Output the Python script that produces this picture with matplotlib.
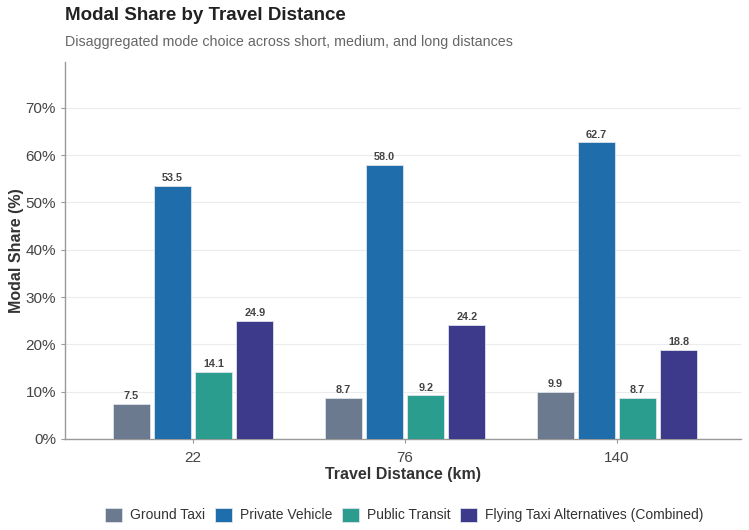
import matplotlib
matplotlib.use("Agg")
import matplotlib.pyplot as plt
import numpy as np

plt.rcParams['font.family'] = ['Liberation Sans', 'DejaVu Sans']

distances = ["22", "76", "140"]
modes = ["Ground Taxi", "Private Vehicle", "Public Transit", "Flying Taxi Alternatives (Combined)"]
ground_taxi = [7.5, 8.7, 9.9]
private_vehicle = [53.5, 58.0, 62.7]
public_transit = [14.1, 9.2, 8.7]
flying_taxi = [24.9, 24.2, 18.8]
colors = ["#6b7a8f", "#1f6dab", "#2a9d8f", "#3d3a8c"]

series = [ground_taxi, private_vehicle, public_transit, flying_taxi]

fig = plt.figure(figsize=(7.49, 5.30), dpi=100)
ax = fig.add_axes([65/749, 1 - 439/530, (741-65)/749, (439-62)/530])

x = np.arange(len(distances))
w = 0.175
step = 0.194
for i, (vals, col, name) in enumerate(zip(series, colors, modes)):
    pos = x + (i - 1.5) * step
    ax.bar(pos, vals, width=w, color=col, edgecolor="#dfe3ea", linewidth=0.6, label=name, zorder=3)
    for p, v in zip(pos, vals):
        ax.text(p, v + 0.6, f"{v:.1f}", ha="center", va="bottom", fontsize=7.8,
                fontweight="bold", color="#444444", zorder=4)

ax.set_xlim(-0.605, 2.585)
ax.set_ylim(0, 79.7)
ax.set_yticks(np.arange(0, 71, 10))
ax.set_yticklabels([f"{t}%" for t in range(0, 71, 10)])
ax.set_xticks(x)
ax.set_xticklabels(distances)
ax.tick_params(axis="both", labelsize=11, colors="#444444", length=3, color="#999999")
ax.tick_params(axis="x", pad=6)
ax.grid(axis="y", color="#ececec", linewidth=0.8, zorder=0)
ax.set_axisbelow(True)
for s in ["top", "right"]:
    ax.spines[s].set_visible(False)
for s in ["left", "bottom"]:
    ax.spines[s].set_color("#999999")
    ax.spines[s].set_linewidth(1.0)

ax.set_ylabel("Modal Share (%)", fontsize=11.5, fontweight="bold", color="#333333", labelpad=1)
ax.set_xlabel("Travel Distance (km)", fontsize=11.5, fontweight="bold", color="#333333", labelpad=1)

fig.text(65/749, 1 - 15/530, "Modal Share by Travel Distance", fontsize=13.5, fontweight="bold",
         color="#222222", ha="left", va="center")
fig.text(65/749, 1 - 42/530, "Disaggregated mode choice across short, medium, and long distances",
         fontsize=10.3, color="#666666", ha="left", va="center")

fig.legend(loc="center", bbox_to_anchor=(0.54, 1 - 515/530), ncol=4, frameon=False,
           fontsize=10, handlelength=1.2, handleheight=1.2, columnspacing=0.7, handletextpad=0.6,
           labelcolor="#333333")

fig.savefig("out.png", dpi=100)
